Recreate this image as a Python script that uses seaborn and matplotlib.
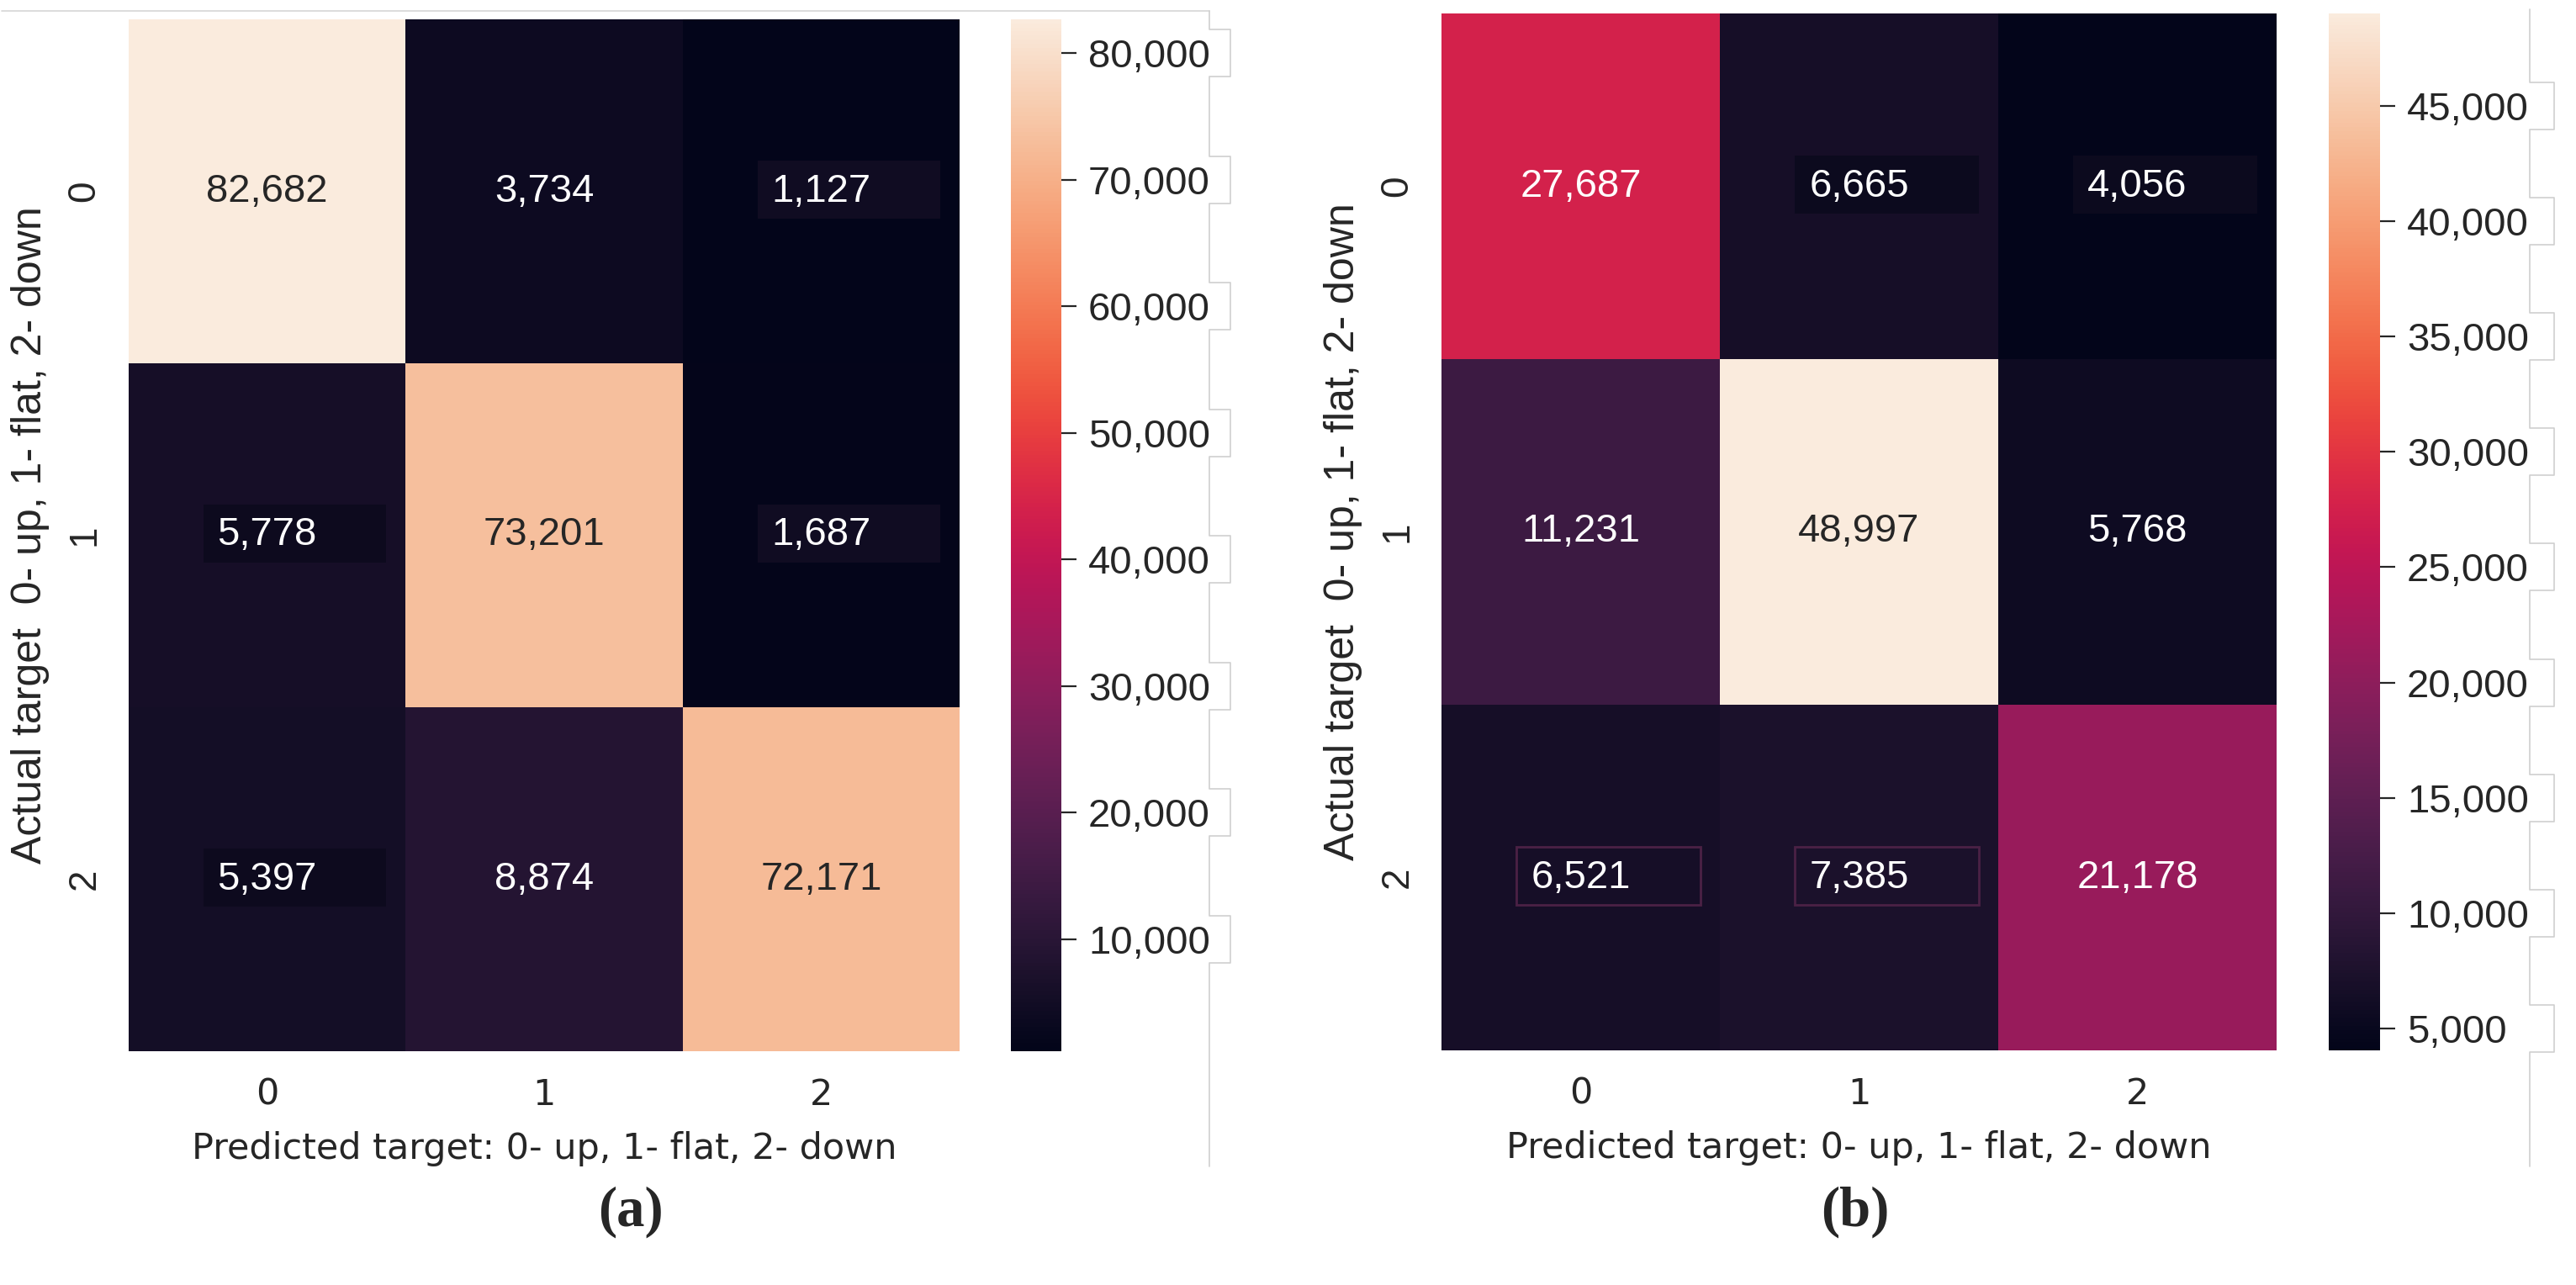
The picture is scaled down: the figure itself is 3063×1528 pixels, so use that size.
import numpy as np
import matplotlib
matplotlib.use("Agg")
import matplotlib.pyplot as plt
from matplotlib.lines import Line2D
from matplotlib.patches import Rectangle
from matplotlib.ticker import MultipleLocator, StrMethodFormatter
import seaborn as sns

sns.set_style('white')

classes = ['0', '1', '2']
# panel (a): actual (rows) x predicted (cols)
cm_a = [[82682, 3734, 1127],
        [5778, 73201, 1687],
        [5397, 8874, 72171]]
# panel (b)
cm_b = [[27687, 6665, 4056],
        [11231, 48997, 5768],
        [6521, 7385, 21178]]
cbar_step_a = 10000
cbar_step_b = 5000
xlabel = 'Predicted target: 0- up, 1- flat, 2- down'
ylabel = 'Actual target  0- up, 1- flat, 2- down'
panel_tags = ['(a)', '(b)']

# small boxes pasted behind some numbers in the source image (row, col, face, edge)
boxes_a = [(0, 2, '#100c22', 'none'), (1, 0, '#0d0a1e', 'none'),
           (1, 2, '#100c22', 'none'), (2, 0, '#0d0a1e', 'none')]
boxes_b = [(0, 1, '#0c0a1e', 'none'), (0, 2, '#0c0a1e', 'none'),
           (2, 0, 'none', '#4b2145'), (2, 1, 'none', '#4b2145')]

ARIAL = 'Liberation Sans'
W, H = 3063, 1528

fig = plt.figure(figsize=(W / 200, H / 200), dpi=200)

def frame_lines(cax, x0, x1, top, bottom):
	# light grey outline around the colorbar labels (screenshot leftover)
	lo, hi = cax.get_ylim()
	ticks = [t for t in cax.get_yticks() if lo <= t <= hi]
	xs, ys = [x0], [top]
	for t in sorted(ticks, reverse=True):
		py = H - cax.transData.transform((0, t))[1]
		xs += [x0, x1, x1, x0]
		ys += [py - 28, py - 28, py + 28, py + 28]
	xs.append(x0)
	ys.append(bottom)
	fig.add_artist(Line2D(np.array(xs) / W, 1 - np.array(ys) / H,
		transform=fig.transFigure, color='#cfcfcf', lw=0.6))

def draw_panel(cm, step, ax_rect, cax_rect, tag, tag_x, boxes):
	ax = fig.add_axes(ax_rect)
	cax = fig.add_axes(cax_rect)
	for r, c, fc, ec in boxes:
		ax.add_patch(Rectangle((c + 0.27, r + 0.41), 0.66, 0.17,
			facecolor=fc, edgecolor=ec, lw=1.0, zorder=2))
	sns.heatmap(np.array(cm), annot=True, fmt=',d', cmap='rocket',
		xticklabels=classes, yticklabels=classes, ax=ax, cbar_ax=cax,
		annot_kws={'fontsize': 17, 'family': ARIAL, 'zorder': 3})
	ax.tick_params(axis='both', length=6, width=0.8, pad=5)
	for t in ax.get_xticklabels():
		t.set_fontsize(15.5)
		t.set_family('DejaVu Sans')
	for t in ax.get_yticklabels():
		t.set_fontsize(16.5)
		t.set_family(ARIAL)
		t.set_rotation(90)
		t.set_va('center')
	ax.set_xlabel(xlabel, fontsize=15.5, family='DejaVu Sans', labelpad=8)
	ax.set_ylabel(ylabel, fontsize=18, family=ARIAL, labelpad=7)
	cax.yaxis.set_major_locator(MultipleLocator(step))
	cax.yaxis.set_major_formatter(StrMethodFormatter('{x:,.0f}'))
	cax.tick_params(length=6.5, width=0.8, pad=5)
	for t in cax.get_yticklabels():
		t.set_fontsize(17)
		t.set_family(ARIAL)
	fig.text(tag_x, 0.057, tag, ha='center', va='center', fontsize=24,
		fontweight='bold', family='Liberation Serif')
	return ax, cax

ax_a, cax_a = draw_panel(cm_a, cbar_step_a, [153 / W, 1 - 1250 / H, 988 / W, 1227 / H],
	[1202 / W, 1 - 1250 / H, 60 / W, 1227 / H], panel_tags[0], 0.245, boxes_a)
ax_b, cax_b = draw_panel(cm_b, cbar_step_b, [1714 / W, 1 - 1249 / H, 993 / W, 1233 / H],
	[2769 / W, 1 - 1249 / H, 61 / W, 1233 / H], panel_tags[1], 0.72, boxes_b)

fig.add_artist(Line2D([2 / W, 1438 / W], [1 - 13 / H, 1 - 13 / H],
	transform=fig.transFigure, color='#d6d6d6', lw=0.6))
frame_lines(cax_a, 1438, 1463, 13, 1387)
frame_lines(cax_b, 3008, 3037, 11, 1387)

plt.savefig('out.png', dpi=200)
